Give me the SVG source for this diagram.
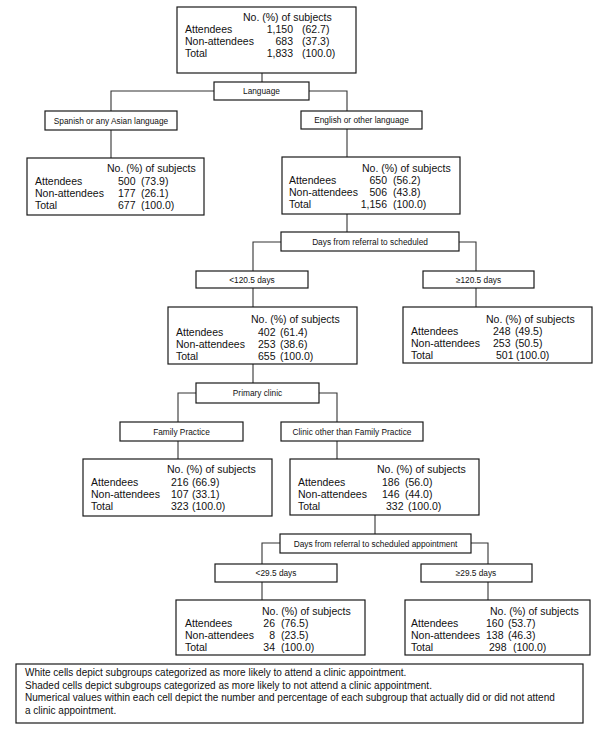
<svg xmlns="http://www.w3.org/2000/svg" width="600" height="735" viewBox="0 0 600 735">
<style>
.box{fill:#fff;stroke:#1a1a1a;stroke-width:1.2}
.lbl{font-family:"Liberation Sans",Arial,sans-serif;font-size:8.3px;fill:#111;text-anchor:middle}
.d{font-family:"Liberation Sans",Arial,sans-serif;font-size:10.5px;fill:#111}
.r{text-anchor:end}
.leg{font-family:"Liberation Sans",Arial,sans-serif;font-size:10px;fill:#111}
.con{fill:none;stroke:#333;stroke-width:1.1}
</style>
<rect width="600" height="735" fill="#fff"/>
<g id="connectors" class="con">
<path d="M262 73V82"/>
<path d="M214 91H111V111"/>
<path d="M111 130V158"/>
<path d="M309 91H347V111"/>
<path d="M347 129V157"/>
<path d="M347 214V232"/>
<path d="M281 242H253V271"/>
<path d="M253 288V307"/>
<path d="M459 242H476V271"/>
<path d="M476 288V307"/>
<path d="M253 364V383"/>
<path d="M196 393H178V422"/>
<path d="M178 441V459"/>
<path d="M319 393H337V422"/>
<path d="M337 441V459"/>
<path d="M375 515V534"/>
<path d="M280 543H262V564"/>
<path d="M262 582V600"/>
<path d="M471 543H488V564"/>
<path d="M488 582V600"/>
</g>
<g id="root">
<rect class="box" x="177" y="7" width="179" height="66"/>
<text class="d" x="243" y="21">No. (%) of subjects</text>
<text class="d" x="185" y="33">Attendees</text>
<text class="d" x="185" y="45">Non-attendees</text>
<text class="d" x="185" y="57">Total</text>
<text class="d r" x="293" y="33">1,150</text>
<text class="d r" x="293" y="45">683</text>
<text class="d r" x="293" y="57">1,833</text>
<text class="d" x="302" y="33">(62.7)</text>
<text class="d" x="302" y="45">(37.3)</text>
<text class="d" x="302" y="57">(100.0)</text>
</g>
<g id="language"><rect class="box" x="214" y="82" width="95" height="18"/><text class="lbl" x="261.5" y="94">Language</text></g>
<g id="spanish"><rect class="box" x="45" y="111" width="132" height="19"/><text class="lbl" x="111" y="123.5">Spanish or any Asian language</text></g>
<g id="spanish-data">
<rect class="box" x="27" y="158" width="177" height="57"/>
<text class="d" x="107" y="172">No. (%) of subjects</text>
<text class="d" x="35" y="185">Attendees</text>
<text class="d" x="35" y="197">Non-attendees</text>
<text class="d" x="35" y="209">Total</text>
<text class="d" x="118" y="185">500</text>
<text class="d" x="118" y="197">177</text>
<text class="d" x="118" y="209">677</text>
<text class="d" x="141" y="185">(73.9)</text>
<text class="d" x="141" y="197">(26.1)</text>
<text class="d" x="141" y="209">(100.0)</text>
</g>
<g id="english"><rect class="box" x="301" y="111" width="121" height="18"/><text class="lbl" x="361.5" y="123">English or other language</text></g>
<g id="english-data">
<rect class="box" x="282" y="157" width="178" height="57"/>
<text class="d" x="362" y="172">No. (%) of subjects</text>
<text class="d" x="289" y="184">Attendees</text>
<text class="d" x="289" y="196">Non-attendees</text>
<text class="d" x="289" y="208">Total</text>
<text class="d r" x="387" y="184">650</text>
<text class="d r" x="387" y="196">506</text>
<text class="d r" x="387" y="208">1,156</text>
<text class="d" x="393" y="184">(56.2)</text>
<text class="d" x="393" y="196">(43.8)</text>
<text class="d" x="393" y="208">(100.0)</text>
</g>
<g id="days1"><rect class="box" x="281" y="232" width="178" height="19"/><text class="lbl" x="370" y="244.5">Days from referral to scheduled</text></g>
<g id="lt120"><rect class="box" x="196" y="271" width="112" height="17"/><text class="lbl" x="252" y="282.5">&lt;120.5 days</text></g>
<g id="ge120"><rect class="box" x="423" y="271" width="111" height="17"/><text class="lbl" x="478.5" y="282.5">≥120.5 days</text></g>
<g id="lt120-data">
<rect class="box" x="168" y="307" width="189" height="57"/>
<text class="d" x="251" y="323">No. (%) of subjects</text>
<text class="d" x="176" y="336">Attendees</text>
<text class="d" x="176" y="348">Non-attendees</text>
<text class="d" x="176" y="360">Total</text>
<text class="d" x="258" y="336">402</text>
<text class="d" x="258" y="348">253</text>
<text class="d" x="258" y="360">655</text>
<text class="d" x="280" y="336">(61.4)</text>
<text class="d" x="280" y="348">(38.6)</text>
<text class="d" x="280" y="360">(100.0)</text>
</g>
<g id="ge120-data">
<rect class="box" x="403" y="307" width="189" height="56"/>
<text class="d" x="486" y="323">No. (%) of subjects</text>
<text class="d" x="411" y="335">Attendees</text>
<text class="d" x="411" y="347">Non-attendees</text>
<text class="d" x="411" y="359">Total</text>
<text class="d" x="493" y="335">248</text>
<text class="d" x="493" y="347">253</text>
<text class="d" x="496" y="359">501</text>
<text class="d" x="515" y="335">(49.5)</text>
<text class="d" x="515" y="347">(50.5)</text>
<text class="d" x="516" y="359">(100.0)</text>
</g>
<g id="primary"><rect class="box" x="196" y="383" width="123" height="20"/><text class="lbl" x="257.5" y="396">Primary clinic</text></g>
<g id="family"><rect class="box" x="120" y="422" width="123" height="19"/><text class="lbl" x="181.5" y="434.5">Family Practice</text></g>
<g id="other"><rect class="box" x="281" y="422" width="142" height="19"/><text class="lbl" x="352" y="434.5">Clinic other than Family Practice</text></g>
<g id="family-data">
<rect class="box" x="83" y="459" width="189" height="57"/>
<text class="d" x="167" y="473">No. (%) of subjects</text>
<text class="d" x="91" y="486">Attendees</text>
<text class="d" x="91" y="498">Non-attendees</text>
<text class="d" x="91" y="510">Total</text>
<text class="d" x="171" y="486">216</text>
<text class="d" x="171" y="498">107</text>
<text class="d" x="171" y="510">323</text>
<text class="d" x="192" y="486">(66.9)</text>
<text class="d" x="192" y="498">(33.1)</text>
<text class="d" x="192" y="510">(100.0)</text>
</g>
<g id="other-data">
<rect class="box" x="290" y="459" width="189" height="56"/>
<text class="d" x="377" y="473">No. (%) of subjects</text>
<text class="d" x="298" y="486">Attendees</text>
<text class="d" x="298" y="498">Non-attendees</text>
<text class="d" x="298" y="510">Total</text>
<text class="d" x="382" y="486">186</text>
<text class="d" x="382" y="498">146</text>
<text class="d" x="386" y="510">332</text>
<text class="d" x="405" y="486">(56.0)</text>
<text class="d" x="405" y="498">(44.0)</text>
<text class="d" x="408" y="510">(100.0)</text>
</g>
<g id="days2"><rect class="box" x="280" y="534" width="191" height="19"/><text class="lbl" x="375.5" y="546.5">Days from referral to scheduled appointment</text></g>
<g id="lt29"><rect class="box" x="215" y="564" width="122" height="18"/><text class="lbl" x="276" y="576">&lt;29.5 days</text></g>
<g id="ge29"><rect class="box" x="421" y="564" width="111" height="18"/><text class="lbl" x="476" y="576">≥29.5 days</text></g>
<g id="lt29-data">
<rect class="box" x="176" y="600" width="189" height="55"/>
<text class="d" x="262" y="615">No. (%) of subjects</text>
<text class="d" x="185" y="627">Attendees</text>
<text class="d" x="185" y="639">Non-attendees</text>
<text class="d" x="185" y="651">Total</text>
<text class="d r" x="275" y="627">26</text>
<text class="d r" x="275" y="639">8</text>
<text class="d r" x="275" y="651">34</text>
<text class="d" x="281" y="627">(76.5)</text>
<text class="d" x="281" y="639">(23.5)</text>
<text class="d" x="281" y="651">(100.0)</text>
</g>
<g id="ge29-data">
<rect class="box" x="405" y="600" width="185" height="55"/>
<text class="d" x="490" y="615">No. (%) of subjects</text>
<text class="d" x="411" y="627">Attendees</text>
<text class="d" x="411" y="639">Non-attendees</text>
<text class="d" x="411" y="651">Total</text>
<text class="d" x="486" y="627">160</text>
<text class="d" x="486" y="639">138</text>
<text class="d" x="489" y="651">298</text>
<text class="d" x="508" y="627">(53.7)</text>
<text class="d" x="508" y="639">(46.3)</text>
<text class="d" x="513" y="651">(100.0)</text>
</g>
<g id="legend">
<rect class="box" x="16" y="664" width="567" height="59"/>
<text class="leg" x="25" y="676">White cells depict subgroups categorized as more likely to attend a clinic appointment.</text>
<text class="leg" x="25" y="688.5">Shaded cells depict subgroups categorized as more likely to not attend a clinic appointment.</text>
<text class="leg" x="25" y="701">Numerical values within each cell depict the number and percentage of each subgroup that actually did or did not attend</text>
<text class="leg" x="25" y="713.5">a clinic appointment.</text>
</g>
</svg>
